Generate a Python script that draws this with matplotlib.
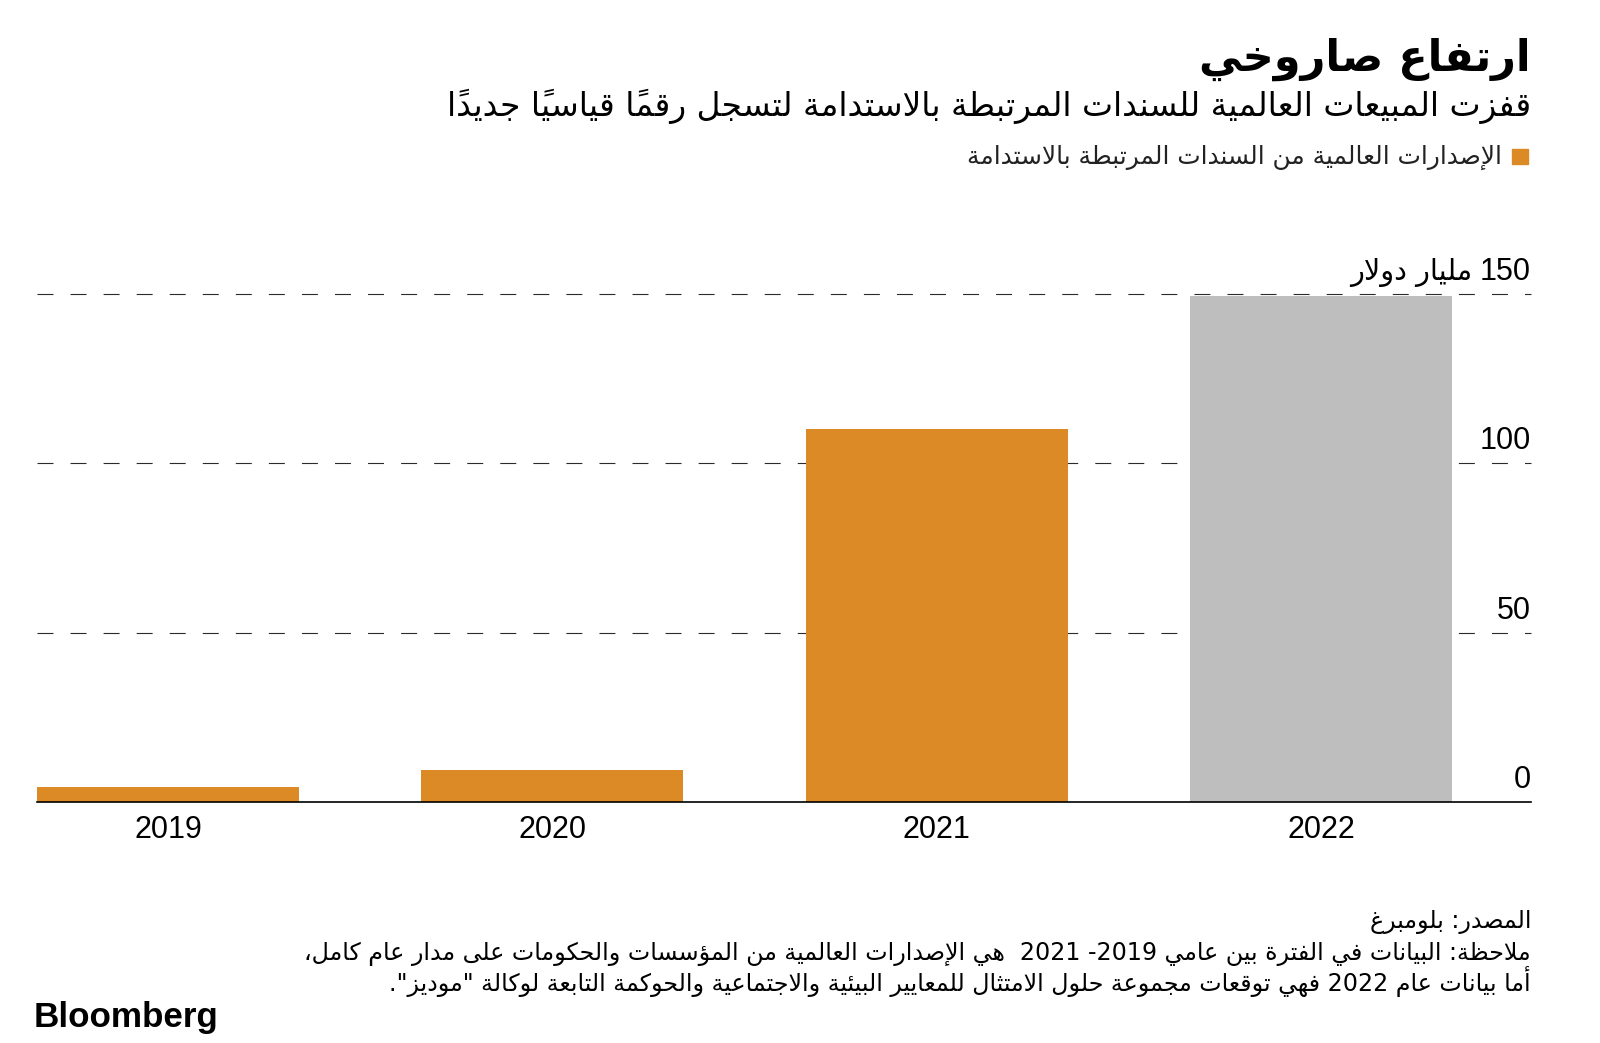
import matplotlib
matplotlib.use('Agg')
import matplotlib.pyplot as plt
from matplotlib import transforms
from matplotlib.patches import Rectangle

# Data
years = ['2019', '2020', '2021', '2022']
issuance = [4.5, 9.5, 110, 149.5]   # billion dollars, 2022 = forecast
y_ticks = [0, 50, 100, 150]

title = 'ارتفاع صاروخي'
subtitle = 'قفزت المبيعات العالمية للسندات المرتبطة بالاستدامة لتسجل رقماً قياسياً جديداً'
legend_label = 'الإصدارات العالمية من السندات المرتبطة بالاستدامة'
unit_label = 'مليار دولار'
source = 'المصدر: بلومبرغ'
note_1 = 'ملاحظة: البيانات في الفترة بين عامي 2019- 2021  هي الإصدارات العالمية من المؤسسات والحكومات على مدار عام كامل،'
note_2 = 'أما بيانات عام 2022 فهي توقعات مجموعة حلول الامتثال للمعايير البيئية والاجتماعية والحوكمة التابعة لوكالة "موديز".'

ORANGE = '#DB8A25'
GRAY = '#BEBEBE'
bar_colors = [ORANGE, ORANGE, ORANGE, GRAY]

# --- minimal Arabic shaping + RTL ordering (matplotlib has no text shaping) ---
_letters = [('\u0621', 1), ('\u0622', 2), ('\u0623', 2), ('\u0624', 2), ('\u0625', 2),
            ('\u0626', 4), ('\u0627', 2), ('\u0628', 4), ('\u0629', 2), ('\u062A', 4),
            ('\u062B', 4), ('\u062C', 4), ('\u062D', 4), ('\u062E', 4), ('\u062F', 2),
            ('\u0630', 2), ('\u0631', 2), ('\u0632', 2), ('\u0633', 4), ('\u0634', 4),
            ('\u0635', 4), ('\u0636', 4), ('\u0637', 4), ('\u0638', 4), ('\u0639', 4),
            ('\u063A', 4), ('\u0641', 4), ('\u0642', 4), ('\u0643', 4), ('\u0644', 4),
            ('\u0645', 4), ('\u0646', 4), ('\u0647', 4), ('\u0648', 2), ('\u0649', 2),
            ('\u064A', 4)]
FORMS = {}
code = 0xFE80
for ch, n in _letters:
    FORMS[ch] = [chr(code + k) for k in range(n)]
    code += n
LAM_ALEF = {'\u0622': 0xFEF5, '\u0623': 0xFEF7, '\u0625': 0xFEF9, '\u0627': 0xFEFB}
MARKS = set(chr(c) for c in range(0x064B, 0x0653))


def _joins(c):
    return c in FORMS and len(FORMS[c]) > 1


def _dual(c):
    return c in FORMS and len(FORMS[c]) == 4


def shape(text):
    out = []
    n = len(text)
    i = 0
    while i < n:
        c = text[i]
        if c not in FORMS:
            out.append(c)
            i += 1
            continue
        j = i - 1
        while j >= 0 and text[j] in MARKS:
            j -= 1
        prev = text[j] if j >= 0 else ''
        k = i + 1
        while k < n and text[k] in MARKS:
            k += 1
        nxt = text[k] if k < n else ''
        join_prev = _dual(prev) and _joins(c)
        if c == '\u0644' and nxt in LAM_ALEF:
            out.append(chr(LAM_ALEF[nxt] + (1 if join_prev else 0)))
            out.extend(text[i + 1:k])
            i = k + 1
            continue
        join_next = _dual(c) and _joins(nxt)
        if join_prev and join_next:
            f = 3
        elif join_prev:
            f = 1
        elif join_next:
            f = 2
        else:
            f = 0
        out.append(FORMS[c][f])
        i += 1
    return ''.join(out)


def rtl(text):
    s = shape(text)
    clusters = []
    for ch in s:
        if ch in MARKS and clusters:
            clusters[-1] += ch
        else:
            clusters.append(ch)
    runs = []
    for cl in clusters:
        ltr = cl[0].isascii() and cl[0].isalnum()
        if runs and runs[-1][0] == ltr:
            runs[-1][1].append(cl)
        else:
            runs.append([ltr, [cl]])
    out = []
    for ltr, cls in reversed(runs):
        out.extend(cls if ltr else reversed(cls))
    return ''.join(out)


# --- figure ---
W, H = 1600, 1043
plt.rcParams['lines.scale_dashes'] = False
fig = plt.figure(figsize=(W / 100, H / 100), dpi=100)
fig.patch.set_facecolor('white')
renderer = fig.canvas.get_renderer()

AR = ['DejaVu Sans']
NUM = ['Liberation Sans', 'DejaVu Sans']


def put(x, y, s, width=None, size=16, **kw):
    # x, y in pixels from top-left; right-aligned, baseline
    t = fig.text(x / W, 1 - y / H, s, ha=kw.pop('ha', 'right'), va='baseline',
                 fontsize=size, **kw)
    if width:
        w = t.get_window_extent(renderer).width
        t.set_fontsize(size * width / w)
    return t


ax = fig.add_axes([37 / W, 1 - 802 / H, 1494 / W, 508 / H])
xpos = list(range(len(years)))
ax.bar(xpos, issuance, width=0.682, color=bar_colors, zorder=2)
ax.set_xlim(-0.341, 3.546)
ax.set_ylim(0, 150)

for v in y_ticks[1:]:
    ax.axhline(v, color='#2b2b2b', lw=0.8, ls=(0, (11.5, 12.3)), zorder=1, clip_on=False)
ax.axhline(0, color='black', lw=1.2, zorder=3, clip_on=False)

for s in ax.spines.values():
    s.set_visible(False)
ax.set_yticks([])
ax.set_xticks(xpos, years)
ax.tick_params(axis='x', length=0, pad=9, labelsize=22)
for lab in ax.get_xticklabels():
    lab.set_family(NUM)

lab_tr = transforms.offset_copy(ax.get_yaxis_transform(), fig=fig, x=0, y=14, units='dots')
tick_texts = []
for v in y_ticks:
    tick_texts.append(ax.text(1.0, v, str(v), transform=lab_tr, ha='right', va='baseline',
                              fontsize=22, family=NUM))

# header
put(1531, 71, rtl(title), width=332, size=36, family=AR, weight='bold')
put(1531, 116, rtl(subtitle), width=1087, size=24, family=AR)
put(1502, 164, rtl(legend_label), width=537, size=15, family=AR, color='#222222')
fig.patches.append(Rectangle((1512 / W, 1 - 164 / H), 16 / W, 15 / H,
                             transform=fig.transFigure, color=ORANGE))
w150 = tick_texts[-1].get_window_extent(renderer).width
put(1531 - w150 - 8, 280, rtl(unit_label), width=122, size=20, family=AR)

# footer
t1 = put(1531, 960, rtl(note_1), width=1232, size=16, family=AR + ['Liberation Sans'])
fs = t1.get_fontsize()
put(1531, 991, rtl(note_2), size=fs, family=AR)
put(1531, 928, rtl(source), size=fs, family=AR)
put(34, 1027, 'Bloomberg', width=185, size=24, family='Liberation Sans',
    weight='bold', ha='left')

fig.savefig('out.png', dpi=100, facecolor='white')
